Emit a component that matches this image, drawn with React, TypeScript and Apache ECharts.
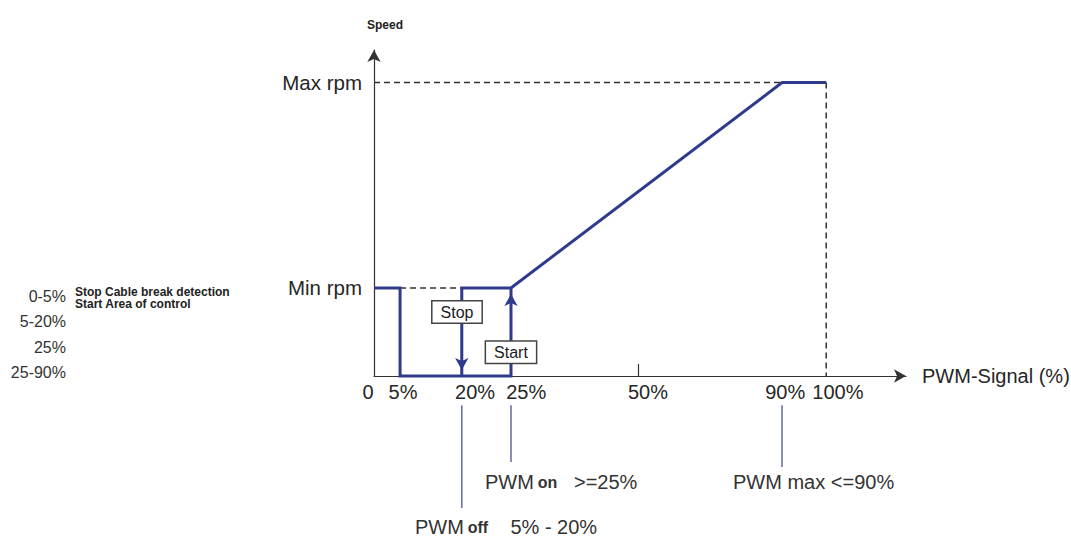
import React, { useEffect, useRef } from "react";
import * as echarts from "echarts";

const FONT = "'Liberation Sans', Arial, sans-serif";

// Schematic axis positions (the drawing is not to scale)
const xTickLabels = ["0", "5%", "20%", "25%", "50%", "90%", "100%"];
const xMarkPos = [0, 4.9, 16.5, 25.75, 49.6, 76.7, 85]; // where the lines/ticks sit
const xLabelPos = [0, 5.45, 19.0, 28.6, 51.5, 77.3, 87.2]; // where the tick texts sit
const yTickLabels = ["Min rpm", "Max rpm"];
const yTickPos = [27, 90];

const [P0, P5, P20, P25, P50, P90, P100] = xMarkPos;
const [MIN_RPM, MAX_RPM] = yTickPos;

// speed curve (two branches of the hysteresis)
const lowBranch = [[P0, MIN_RPM], [P5, MIN_RPM], [P5, 0], [P25, 0], [P25, MIN_RPM]];
const highBranch = [[P20, 0], [P20, MIN_RPM], [P25, MIN_RPM], [P90, MAX_RPM], [P100, MAX_RPM]];

// dashed guides
const minGuide = [[P5, MIN_RPM], [P20, MIN_RPM]];
const maxGuide = [[P0, MAX_RPM], [P90, MAX_RPM]];
const endGuide = [[P100, MAX_RPM], [P100, 0]];

// pointer lines below the axis
const offPointer = [[P20, -9], [P20, -40.5]];
const onPointer = [[P25, -9], [P25, -26.4]];
const maxPointer = [[P90, -9], [P90, -27.9]];

// state boxes
const stateBoxes = [
  { name: "Stop", value: [15.6, 19.6] },
  { name: "Start", value: [P25, 7.3] },
];

const legendRanges = ["0-5%", "5-20%", "25%", "25-90%"];
const legendNotes = ["Stop Cable break detection", "Start Area of control"];

const BLUE = "#2e3a8c";
const INK = "#262626";

function labelFor(v: number, pos: number[], labels: string[]) {
  let best = 0;
  for (let i = 1; i < pos.length; i++) {
    if (Math.abs(pos[i] - v) < Math.abs(pos[best] - v)) best = i;
  }
  return labels[best];
}

export default function App() {
  const ref = useRef<HTMLDivElement>(null);

  useEffect(() => {
    if (!ref.current) return;
    const chart = echarts.init(ref.current, undefined, { renderer: "svg" });

    const guideStyle = { color: "#333", width: 1.5, type: [6, 4] as any };
    const pointerStyle = { color: "#6c729f", width: 1.6 };

    const lineSeries = (data: number[][], lineStyle: any, z = 2, extra: any = {}) => ({
      type: "line",
      data,
      symbol: "none",
      clip: false,
      silent: true,
      lineStyle,
      z,
      ...extra,
    });

    const graphic: any[] = [];
    const rangeY = [296, 321, 347, 372];
    legendRanges.forEach((t, i) =>
      graphic.push({
        type: "text",
        x: 66,
        y: rangeY[i],
        style: { text: t, fontSize: 16, fontFamily: FONT, fill: "#333", align: "right", verticalAlign: "middle" },
      })
    );
    const noteY = [292, 304];
    legendNotes.forEach((t, i) =>
      graphic.push({
        type: "text",
        x: 75,
        y: noteY[i],
        style: { text: t, fontSize: 12, fontWeight: "bold", fontFamily: FONT, fill: "#222", verticalAlign: "middle" },
      })
    );
    const rich = {
      a: { fontSize: 20, fontFamily: FONT, fill: "#333", color: "#333" },
      s: { fontSize: 14, fontFamily: FONT, fill: "#333", color: "#333" },
      b: { fontSize: 16, fontWeight: "bold", fontFamily: FONT, fill: "#333", color: "#333" },
    };
    graphic.push({
      type: "text",
      x: 415,
      y: 527,
      style: { text: "{a|PWM}{s| }{b|off}{a|    5% - 20%}", rich, verticalAlign: "middle", fontFamily: FONT },
    });
    graphic.push({
      type: "text",
      x: 485,
      y: 482,
      style: { text: "{a|PWM}{s| }{b|on}{a|   >=25%}", rich, verticalAlign: "middle", fontFamily: FONT },
    });
    graphic.push({
      type: "text",
      x: 733,
      y: 482,
      style: { text: "{a|PWM max <=90%}", rich, verticalAlign: "middle", fontFamily: FONT },
    });

    chart.setOption({
      animation: false,
      backgroundColor: "#fff",
      textStyle: { fontFamily: FONT },
      grid: { left: 374, top: 50, width: 532, height: 326, containLabel: false, outerBoundsMode: "none" },
      xAxis: {
        type: "value",
        min: 0,
        max: 100,
        name: "PWM-Signal (%)",
        nameLocation: "end",
        nameGap: 16,
        nameTextStyle: { fontSize: 20, color: INK, align: "left", verticalAlign: "middle", fontFamily: FONT },
        axisLine: {
          show: true,
          onZero: false,
          symbol: ["none", "arrow"],
          symbolSize: [10, 12],
          lineStyle: { color: "#333", width: 1.2 },
        },
        axisTick: { show: true, customValues: [P50], inside: true, length: 12, lineStyle: { color: "#333", width: 1.2 } },
        axisLabel: {
          customValues: xLabelPos,
          formatter: (v: number) => {
            const t = labelFor(v, xLabelPos, xTickLabels);
            return t === "0" ? "{z|0}" : t;
          },
          rich: { z: { fontSize: 20, color: INK, fontFamily: FONT, padding: [0, 12, 0, 0] } },
          fontSize: 20,
          color: INK,
          margin: 6,
          fontFamily: FONT,
        },
        splitLine: { show: false },
      },
      yAxis: {
        type: "value",
        min: 0,
        max: 100,
        name: "Speed",
        nameLocation: "end",
        nameGap: 19,
        nameTextStyle: {
          fontSize: 12,
          fontWeight: "bold",
          color: "#222",
          align: "center",
          padding: [0, 0, 0, 22],
          fontFamily: FONT,
        },
        axisLine: {
          show: true,
          onZero: false,
          symbol: ["none", "arrow"],
          symbolSize: [10, 12],
          lineStyle: { color: "#333", width: 1.2 },
        },
        axisTick: { show: false },
        axisLabel: {
          customValues: yTickPos,
          formatter: (v: number) => labelFor(v, yTickPos, yTickLabels),
          fontSize: 20.5,
          color: INK,
          margin: 12,
          fontFamily: FONT,
        },
        splitLine: { show: false },
      },
      graphic,
      series: [
        lineSeries(minGuide, guideStyle, 2),
        lineSeries(maxGuide, guideStyle, 2),
        lineSeries(endGuide, guideStyle, 2),
        lineSeries(offPointer, pointerStyle, 2),
        lineSeries(onPointer, pointerStyle, 2),
        lineSeries(maxPointer, pointerStyle, 2),
        lineSeries(lowBranch, { color: BLUE, width: 3, join: "miter" }, 3),
        lineSeries(highBranch, { color: BLUE, width: 3, join: "miter" }, 3, {
          markPoint: {
            silent: true,
            symbol: "arrow",
            label: { show: false },
            itemStyle: { color: BLUE },
            data: [
              { coord: [P20, 0], symbolRotate: 180, symbolSize: [10, 12], symbolOffset: [0, -6] },
              { coord: [P25, MIN_RPM], symbolRotate: 0, symbolSize: [10, 12], symbolOffset: [0, 6] },
            ],
          },
        }),
        {
          type: "scatter",
          data: stateBoxes,
          symbol: "rect",
          symbolSize: 2,
          itemStyle: { color: "#fff", opacity: 1 },
          emphasis: { disabled: true },
          silent: true,
          z: 6,
          label: {
            show: true,
            position: "inside",
            formatter: "{b}",
            fontSize: 16,
            color: "#1a1a1a",
            opacity: 1,
            fontFamily: FONT,
            backgroundColor: "#fff",
            borderColor: "#444",
            borderWidth: 1.5,
            padding: [3, 8, 2, 8],
          },
        },
      ],
    });

    return () => chart.dispose();
  }, []);

  return (
    <div
      ref={ref}
      style={{ position: "fixed", left: 0, top: 0, width: 1071, height: 537, background: "#fff" }}
    />
  );
}
